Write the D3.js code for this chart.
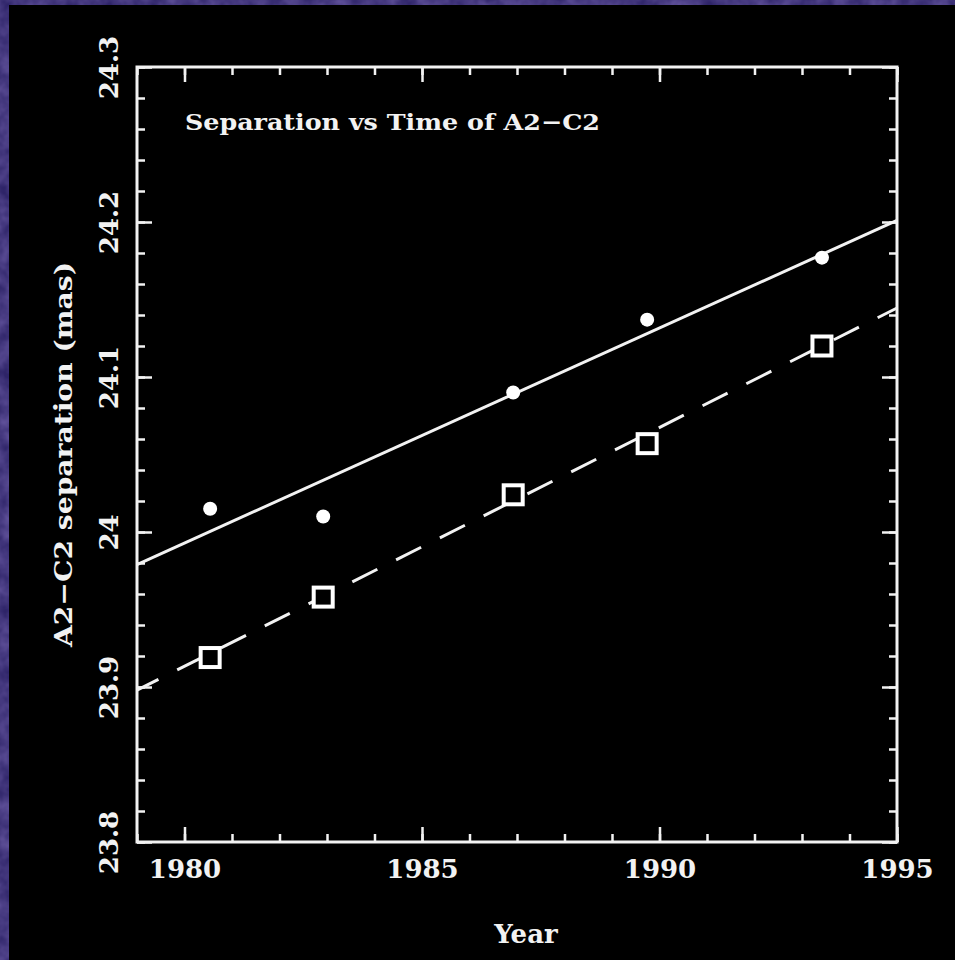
<!DOCTYPE html>
<html lang="en">
<head>
<meta charset="UTF-8">
<title>Separation vs Time of A2-C2</title>
<style>
    body { margin: 0; background: #000; }
    text { font-family: "DejaVu Serif", serif; fill: #f2f2f2; }
</style>
</head>
<body>
<div id="chart"></div>
<script src="https://d3js.org/d3.v7.min.js"></script>
<script>
    // epochs of the observations
    var years = [1980.54, 1982.92, 1986.92, 1989.74, 1993.42];
    // filled dots
    var sepDots = [24.015, 24.010, 24.090, 24.137, 24.177];
    // open squares
    var sepSquares = [23.919, 23.958, 24.024, 24.057, 24.120];
    // straight line fits, given at the ends of the x range
    var fitYears = [1979, 1995];
    var fitDots = [23.979, 24.201];
    var fitSquares = [23.898, 24.1445];
    var xTicks = [1980, 1985, 1990, 1995];
    var yTicks = [23.8, 23.9, 24, 24.1, 24.2, 24.3];

    var W = 955, H = 960;
    var svg = d3.select("#chart").append("svg")
        .attr("width", W).attr("height", H);

    // purple textured backdrop peeking out at the top and left
    var defs = svg.append("defs");
    var f = defs.append("filter").attr("id", "grain");
    f.append("feTurbulence").attr("type", "fractalNoise")
        .attr("baseFrequency", "0.06").attr("numOctaves", 3).attr("seed", 4);
    f.append("feColorMatrix").attr("values",
        "0 0 0 0 0.22  0 0 0 0 0.16  0 0 0 0 0.50  0 0 0 1.2 -0.2");
    svg.append("rect").attr("width", W).attr("height", H).attr("fill", "#2e2468");
    svg.append("rect").attr("width", W).attr("height", H).attr("filter", "url(#grain)").attr("opacity", 0.7);
    svg.append("rect").attr("x", 9).attr("y", 5).attr("width", W - 9).attr("height", H - 5).attr("fill", "#000");

    var x = d3.scaleLinear().domain([1979, 1995]).range([137, 897]);
    var y = d3.scaleLinear().domain([23.8, 24.3]).range([842, 67]);

    var col = "#f2f2f2";
    var minorX = d3.range(1979, 1996, 1);
    var minorY = d3.range(0, 26).map(function (i) { return 23.8 + i * 0.02; });

    function styleAxis(g) {
        g.select(".domain").remove();
        g.selectAll("line").attr("stroke", col).attr("stroke-width", 2.5);
    }

    // ticks on all four sides, pointing inwards
    [["bottom", 842], ["top", 67]].forEach(function (s) {
        var ax = s[0] === "bottom" ? d3.axisBottom(x) : d3.axisTop(x);
        svg.append("g").attr("transform", "translate(0," + s[1] + ")")
            .call(ax.tickValues(minorX).tickSize(-8).tickFormat(""))
            .call(styleAxis);
        var ax2 = s[0] === "bottom" ? d3.axisBottom(x) : d3.axisTop(x);
        var g = svg.append("g").attr("transform", "translate(0," + s[1] + ")")
            .call(ax2.tickValues(xTicks).tickSize(-15).tickPadding(18).tickFormat(s[0] === "bottom" ? d3.format("d") : ""))
            .call(styleAxis);
        g.selectAll("text").attr("fill", col).style("font-size", "26px").style("font-weight", "bold")
            .style("font-family", '"DejaVu Serif", serif');
    });

    [["left", 137], ["right", 897]].forEach(function (s) {
        var ax = s[0] === "left" ? d3.axisLeft(y) : d3.axisRight(y);
        svg.append("g").attr("transform", "translate(" + s[1] + ",0)")
            .call(ax.tickValues(minorY).tickSize(-8).tickFormat(""))
            .call(styleAxis);
        var ax2 = s[0] === "left" ? d3.axisLeft(y) : d3.axisRight(y);
        var g = svg.append("g").attr("transform", "translate(" + s[1] + ",0)")
            .call(ax2.tickValues(yTicks).tickSize(-15).tickFormat(s[0] === "left" ? d3.format("") : ""))
            .call(styleAxis);
        if (s[0] === "left") {
            g.selectAll("text")
                .attr("x", null).attr("dy", null)
                .attr("text-anchor", "middle")
                .attr("transform", "translate(-19,0) rotate(-90)")
                .attr("fill", col)
                .style("font-size", "26px").style("font-weight", "bold")
                .style("font-family", '"DejaVu Serif", serif');
        }
    });

    // frame
    svg.append("rect")
        .attr("x", x(1979)).attr("y", y(24.3))
        .attr("width", x(1995) - x(1979)).attr("height", y(23.8) - y(24.3))
        .attr("fill", "none").attr("stroke", col).attr("stroke-width", 3);

    // fitted lines
    var line = d3.line().x(function (d) { return x(d[0]); }).y(function (d) { return y(d[1]); });
    svg.append("path").datum(d3.zip(fitYears, fitDots))
        .attr("d", line).attr("fill", "none").attr("stroke", col).attr("stroke-width", 3);
    svg.append("path").datum(d3.zip(fitYears, fitSquares))
        .attr("d", line).attr("fill", "none").attr("stroke", col).attr("stroke-width", 3)
        .attr("stroke-dasharray", "28,21").attr("stroke-dashoffset", 4);

    // points
    svg.selectAll(".dot").data(d3.zip(years, sepDots)).enter().append("circle")
        .attr("class", "dot")
        .attr("cx", function (d) { return x(d[0]); })
        .attr("cy", function (d) { return y(d[1]); })
        .attr("r", 7).attr("fill", "#fff");

    svg.selectAll(".sq").data(d3.zip(years, sepSquares)).enter().append("rect")
        .attr("class", "sq")
        .attr("x", function (d) { return x(d[0]) - 9.5; })
        .attr("y", function (d) { return y(d[1]) - 9.5; })
        .attr("width", 19).attr("height", 19)
        .attr("fill", "#000").attr("stroke", "#fff").attr("stroke-width", 4);

    // labels
    svg.append("text").attr("x", 185).attr("y", 130)
        .attr("textLength", 415).attr("lengthAdjust", "spacingAndGlyphs")
        .style("font-size", "23px").style("font-weight", "bold")
        .text("Separation vs Time of A2\u2212C2");

    svg.append("text").attr("x", 526).attr("y", 943)
        .attr("text-anchor", "middle")
        .style("font-size", "26px").style("font-weight", "bold")
        .text("Year");

    svg.append("text")
        .attr("transform", "translate(72," + ((y(23.8) + y(24.3)) / 2) + ") rotate(-90)")
        .attr("text-anchor", "middle")
        .attr("textLength", 385).attr("lengthAdjust", "spacingAndGlyphs")
        .style("font-size", "25px").style("font-weight", "bold")
        .text("A2\u2212C2 separation (mas)");
</script>
</body>
</html>
